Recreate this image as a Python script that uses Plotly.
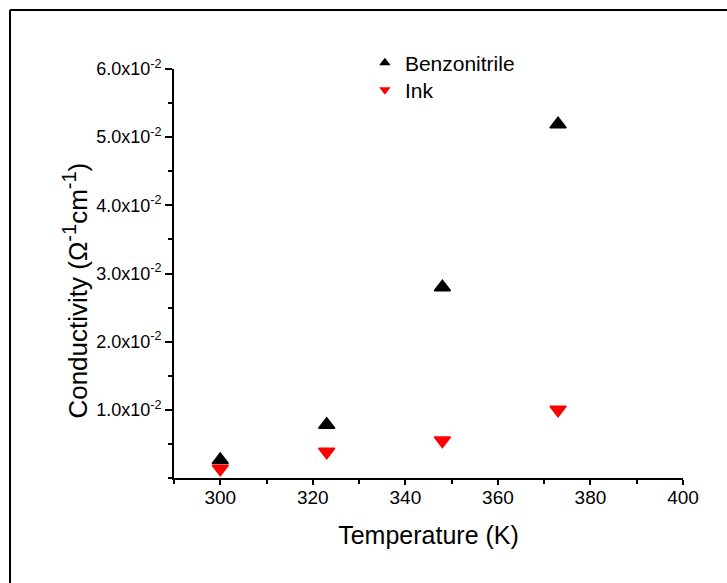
import plotly.graph_objects as go

temperature = [300, 323, 348, 373]
benzonitrile = [0.00265, 0.0078, 0.0280, 0.0519]
ink = [0.00136, 0.00384, 0.0055, 0.0100]

x_ticks = [300, 320, 340, 360, 380, 400]
y_ticks = [0.01, 0.02, 0.03, 0.04, 0.05, 0.06]
y_tick_text = ["1.0x10<sup>-2</sup>", "2.0x10<sup>-2</sup>", "3.0x10<sup>-2</sup>",
               "4.0x10<sup>-2</sup>", "5.0x10<sup>-2</sup>", "6.0x10<sup>-2</sup>"]

FONT = "Liberation Sans, Arial, sans-serif"

fig = go.Figure()
fig.add_trace(go.Scatter(x=temperature, y=benzonitrile, mode="markers", name="Benzonitrile",
                         showlegend=False, legendgroup="b",
                         marker=dict(symbol="triangle-up", size=14, color="black",
                                     line=dict(color="black", width=1.5))))
fig.add_trace(go.Scatter(x=temperature, y=ink, mode="markers", name="Ink",
                         showlegend=False, legendgroup="i",
                         marker=dict(symbol="triangle-down", size=14, color="#ff0000",
                                     line=dict(color="#ff0000", width=1.5))))
# legend entries (smaller symbols as in reference)
fig.add_trace(go.Scatter(x=[None], y=[None], mode="markers", name="Benzonitrile", legendgroup="b",
                         legend="legend",
                         marker=dict(symbol="triangle-up", size=10, color="black")))
fig.add_trace(go.Scatter(x=[None], y=[None], mode="markers", name="Ink", legendgroup="i",
                         legend="legend2",
                         marker=dict(symbol="triangle-down", size=10, color="#ff0000")))

legend_common = dict(xanchor="left", yanchor="middle",
                     font=dict(size=21, family=FONT, color="black"),
                     bgcolor="rgba(0,0,0,0)")

border = dict(color="black", width=2)
fig.update_layout(
    width=727, height=583,
    margin=dict(l=174, r=44, t=69, b=105),
    paper_bgcolor="white", plot_bgcolor="white",
    font=dict(family=FONT, color="black"),
    showlegend=True,
    legend=dict(x=0.375, y=1.0147, **legend_common),
    legend2=dict(x=0.375, y=0.9487, **legend_common),
    shapes=[
        dict(type="line", xref="paper", yref="paper", x0=-0.3222, x1=-0.3222, y0=-0.4, y1=1.144,
             line=border, layer="below"),
        dict(type="line", xref="paper", yref="paper", x0=-0.3222, x1=1.3, y0=1.144, y1=1.144,
             line=border, layer="below"),
    ],
    annotations=[dict(text="Conductivity (Ω<sup><span style='font-size:20px'>-1</span></sup>cm"
                           "<sup><span style='font-size:20px'>-1</span></sup>)",
                      xref="paper", yref="paper", x=-0.1935, y=0.457,
                      xanchor="center", yanchor="middle", textangle=-90, showarrow=False,
                      font=dict(size=26, family=FONT, color="black"))],
)
fig.update_xaxes(
    range=[290, 400], showgrid=False, zeroline=False,
    showline=True, linecolor="black", linewidth=2,
    ticks="outside", ticklen=5, tickwidth=1.5, tickcolor="black",
    ticklabelstandoff=-4,
    tickvals=x_ticks, tickfont=dict(size=19, family=FONT, color="black"),
    minor=dict(dtick=10, tick0=290, ticks="outside", ticklen=4, tickwidth=1.5, tickcolor="black"),
    title=dict(text="Temperature (K)", font=dict(size=25, family=FONT, color="black"), standoff=20),
)
fig.update_yaxes(
    range=[0, 0.06], showgrid=False, zeroline=False,
    showline=True, linecolor="black", linewidth=2,
    ticks="outside", ticklen=7, tickwidth=1.5, tickcolor="black",
    tickvals=y_ticks, ticktext=y_tick_text,
    tickfont=dict(size=18, family=FONT, color="black"),
    minor=dict(dtick=0.005, tick0=0, ticks="outside", ticklen=4, tickwidth=1.5, tickcolor="black"),
)

fig.write_html("out.html", config={"displayModeBar": False},
               post_script="document.body.style.margin='0';document.body.style.overflow='hidden';")
